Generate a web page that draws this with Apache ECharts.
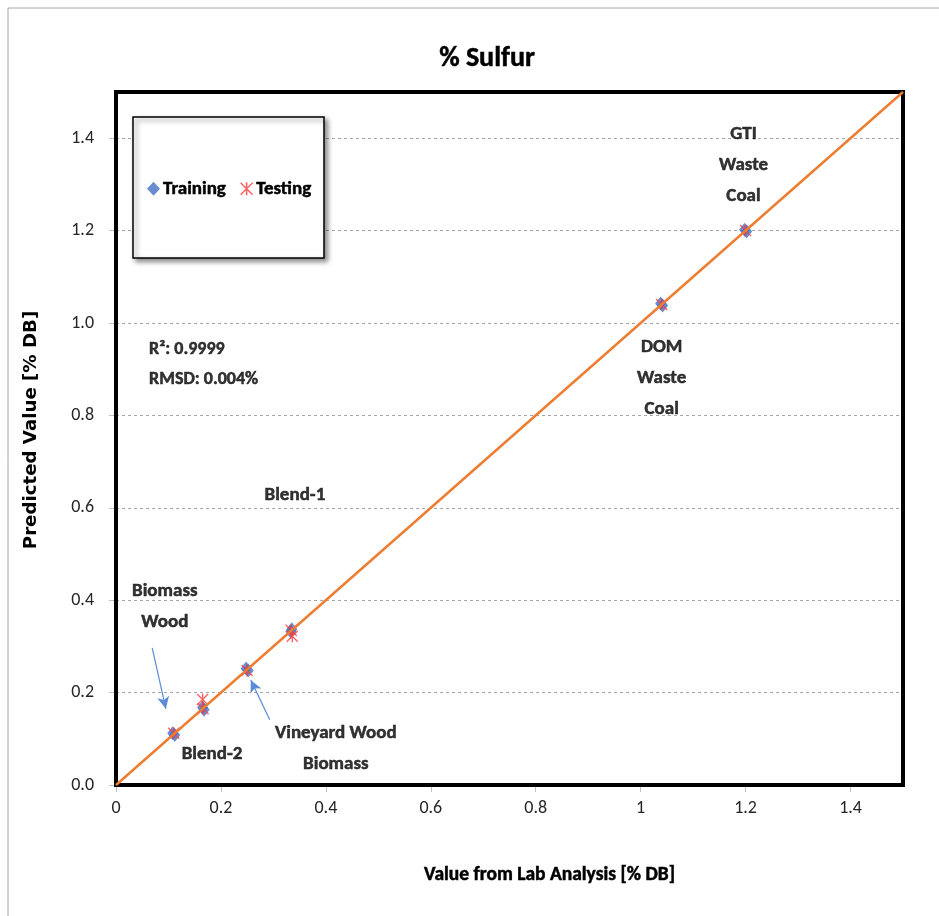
<!DOCTYPE html>
<html>
<head>
<meta charset="utf-8">
<script src="https://cdn.jsdelivr.net/npm/echarts@6/dist/echarts.min.js"></script>
<style>html,body{margin:0;padding:0;background:#fff;}#c{width:939px;height:916px;}</style>
</head>
<body>
<div id="c"></div>
<script>
// ---- data ----
const trainingPoints = [[0.108,0.112],[0.112,0.108],[0.165,0.168],[0.168,0.163],[0.248,0.252],[0.252,0.248],[0.335,0.337],[0.333,0.332],[1.038,1.042],[1.042,1.038],[1.198,1.202],[1.202,1.198]];
const testingPoints = [[0.110,0.112],[0.165,0.185],[0.166,0.165],[0.250,0.248],[0.336,0.322],[0.334,0.335],[1.040,1.040],[1.200,1.200]];
const parityLine = [[0,0],[1.5,1.5]];
const annotations = [
  [1.196,1.342,'GTI\nWaste\nCoal'],
  [1.040,0.881,'DOM\nWaste\nCoal'],
  [0.341,0.628,'Blend-1'],
  [0.093,0.385,'Biomass\nWood'],
  [0.183,0.067,'Blend-2'],
  [0.419,0.078,'Vineyard Wood\nBiomass']
];
const statsText = [[0.062,0.911,'R²: 0.9999\nRMSD: 0.004%']];
const arrows = [
  [[0.069,0.297],[0.095,0.165]],
  [[0.293,0.141],[0.257,0.227]]
];
const xTicks = {min:0, max:1.5, interval:0.2};
const yTicks = {min:0, max:1.5, interval:0.2};

const asteriskPath = 'path://M4.4 0 L5.6 0 L5.6 10 L4.4 10 Z M0.8 0 L10 9.2 L9.2 10 L0 0.8 Z M9.2 0 L10 0.8 L0.8 10 L0 9.2 Z';
const narrow = 'Carlito, Lato, sans-serif';
const boldText = {fontFamily:narrow, fontWeight:'bold', color:'#000', textBorderColor:'#000', textBorderWidth:0.5};

const chart = echarts.init(document.getElementById('c'), null, {renderer:'canvas'});
chart.setOption({
  animation:false,
  backgroundColor:'#fff',
  title:{text:'% Sulfur', left:482, top:40, textAlign:'center',
    textStyle:Object.assign({}, boldText, {fontSize:28})},
  grid:{left:116, top:92, right:36, bottom:131, show:true, borderColor:'#000', borderWidth:4, backgroundColor:'transparent', z:3},
  graphic:[
    {type:'rect', z:-10, shape:{x:8, y:8, width:1200, height:1200}, style:{fill:'none', stroke:'#a6a6a6', lineWidth:1}},
    {type:'rect', z:1, shape:{x:133, y:117, width:191, height:141}, style:{fill:'#fff', stroke:'#000', lineWidth:1.5, shadowBlur:5, shadowOffsetX:3, shadowOffsetY:3, shadowColor:'rgba(0,0,0,0.45)'}}
  ],
  legend:{data:['Training','Testing'], left:142, top:174, itemGap:14, itemWidth:13, itemHeight:14, z:5,
    textStyle:Object.assign({}, boldText, {fontSize:19, padding:[0,0,0,-2]})},
  xAxis:{type:'value', min:xTicks.min, max:xTicks.max, interval:xTicks.interval,
    name:'Value from Lab Analysis [% DB]', nameLocation:'middle', nameGap:80,
    nameTextStyle:Object.assign({}, boldText, {fontSize:19.5, padding:[0,0,0,80]}),
    axisLine:{show:false}, axisTick:{show:true, length:7, lineStyle:{color:'#bfbfbf', width:1}},
    axisLabel:{fontFamily:narrow, fontSize:18, color:'#262626', margin:14, showMaxLabel:false},
    splitLine:{show:false}},
  yAxis:{type:'value', min:yTicks.min, max:yTicks.max, interval:yTicks.interval,
    name:'Predicted Value [% DB]', nameLocation:'middle', nameGap:76,
    nameTextStyle:{fontFamily:'DejaVu Sans', fontWeight:'bold', fontSize:18.2, color:'#000', padding:[0,0,0,17]},
    axisLine:{show:false}, axisTick:{show:true, length:7, lineStyle:{color:'#bfbfbf', width:1}},
    axisLabel:{fontFamily:narrow, fontSize:18, color:'#262626', margin:22, showMaxLabel:false,
      formatter:function(v){return v.toFixed(1);}},
    splitLine:{show:true, lineStyle:{color:'#a6a6a6', type:[3,3], width:1}}},
  series:[
    {name:'Training', type:'scatter', symbol:'diamond', symbolSize:[11,14], z:3,
      itemStyle:{color:'#4472C4'}, data:trainingPoints},
    {name:'Testing', type:'scatter', symbol:asteriskPath, symbolSize:12, z:4,
      itemStyle:{color:'#FF3B3B'}, data:testingPoints},
    {name:'Parity', type:'line', symbol:'none', z:5, lineStyle:{color:'#ED7D31', width:2.5},
      data:parityLine},
    {name:'Annotations', type:'scatter', symbolSize:1, z:6, silent:true,
      itemStyle:{color:'rgba(0,0,0,0)'},
      label:Object.assign({show:true, position:'inside', align:'center', verticalAlign:'middle',
        fontSize:19, lineHeight:31,
        formatter:function(p){return p.value[2];}}, boldText),
      data:annotations,
      markLine:{silent:true, symbol:['none','arrow'], symbolSize:[9,12], animation:false,
        lineStyle:{color:'#5B8BD6', width:1.2, type:'solid'}, label:{show:false},
        emphasis:{disabled:true},
        data:arrows.map(a=>[{coord:a[0]},{coord:a[1]}])}},
    {name:'Stats', type:'scatter', symbolSize:1, z:6, silent:true,
      itemStyle:{color:'rgba(0,0,0,0)'},
      label:Object.assign({show:true, position:'right', distance:0, align:'left', verticalAlign:'middle',
        fontSize:18, lineHeight:30,
        formatter:function(p){return p.value[2];}}, boldText),
      data:statsText}
  ]
});
</script>
</body>
</html>
